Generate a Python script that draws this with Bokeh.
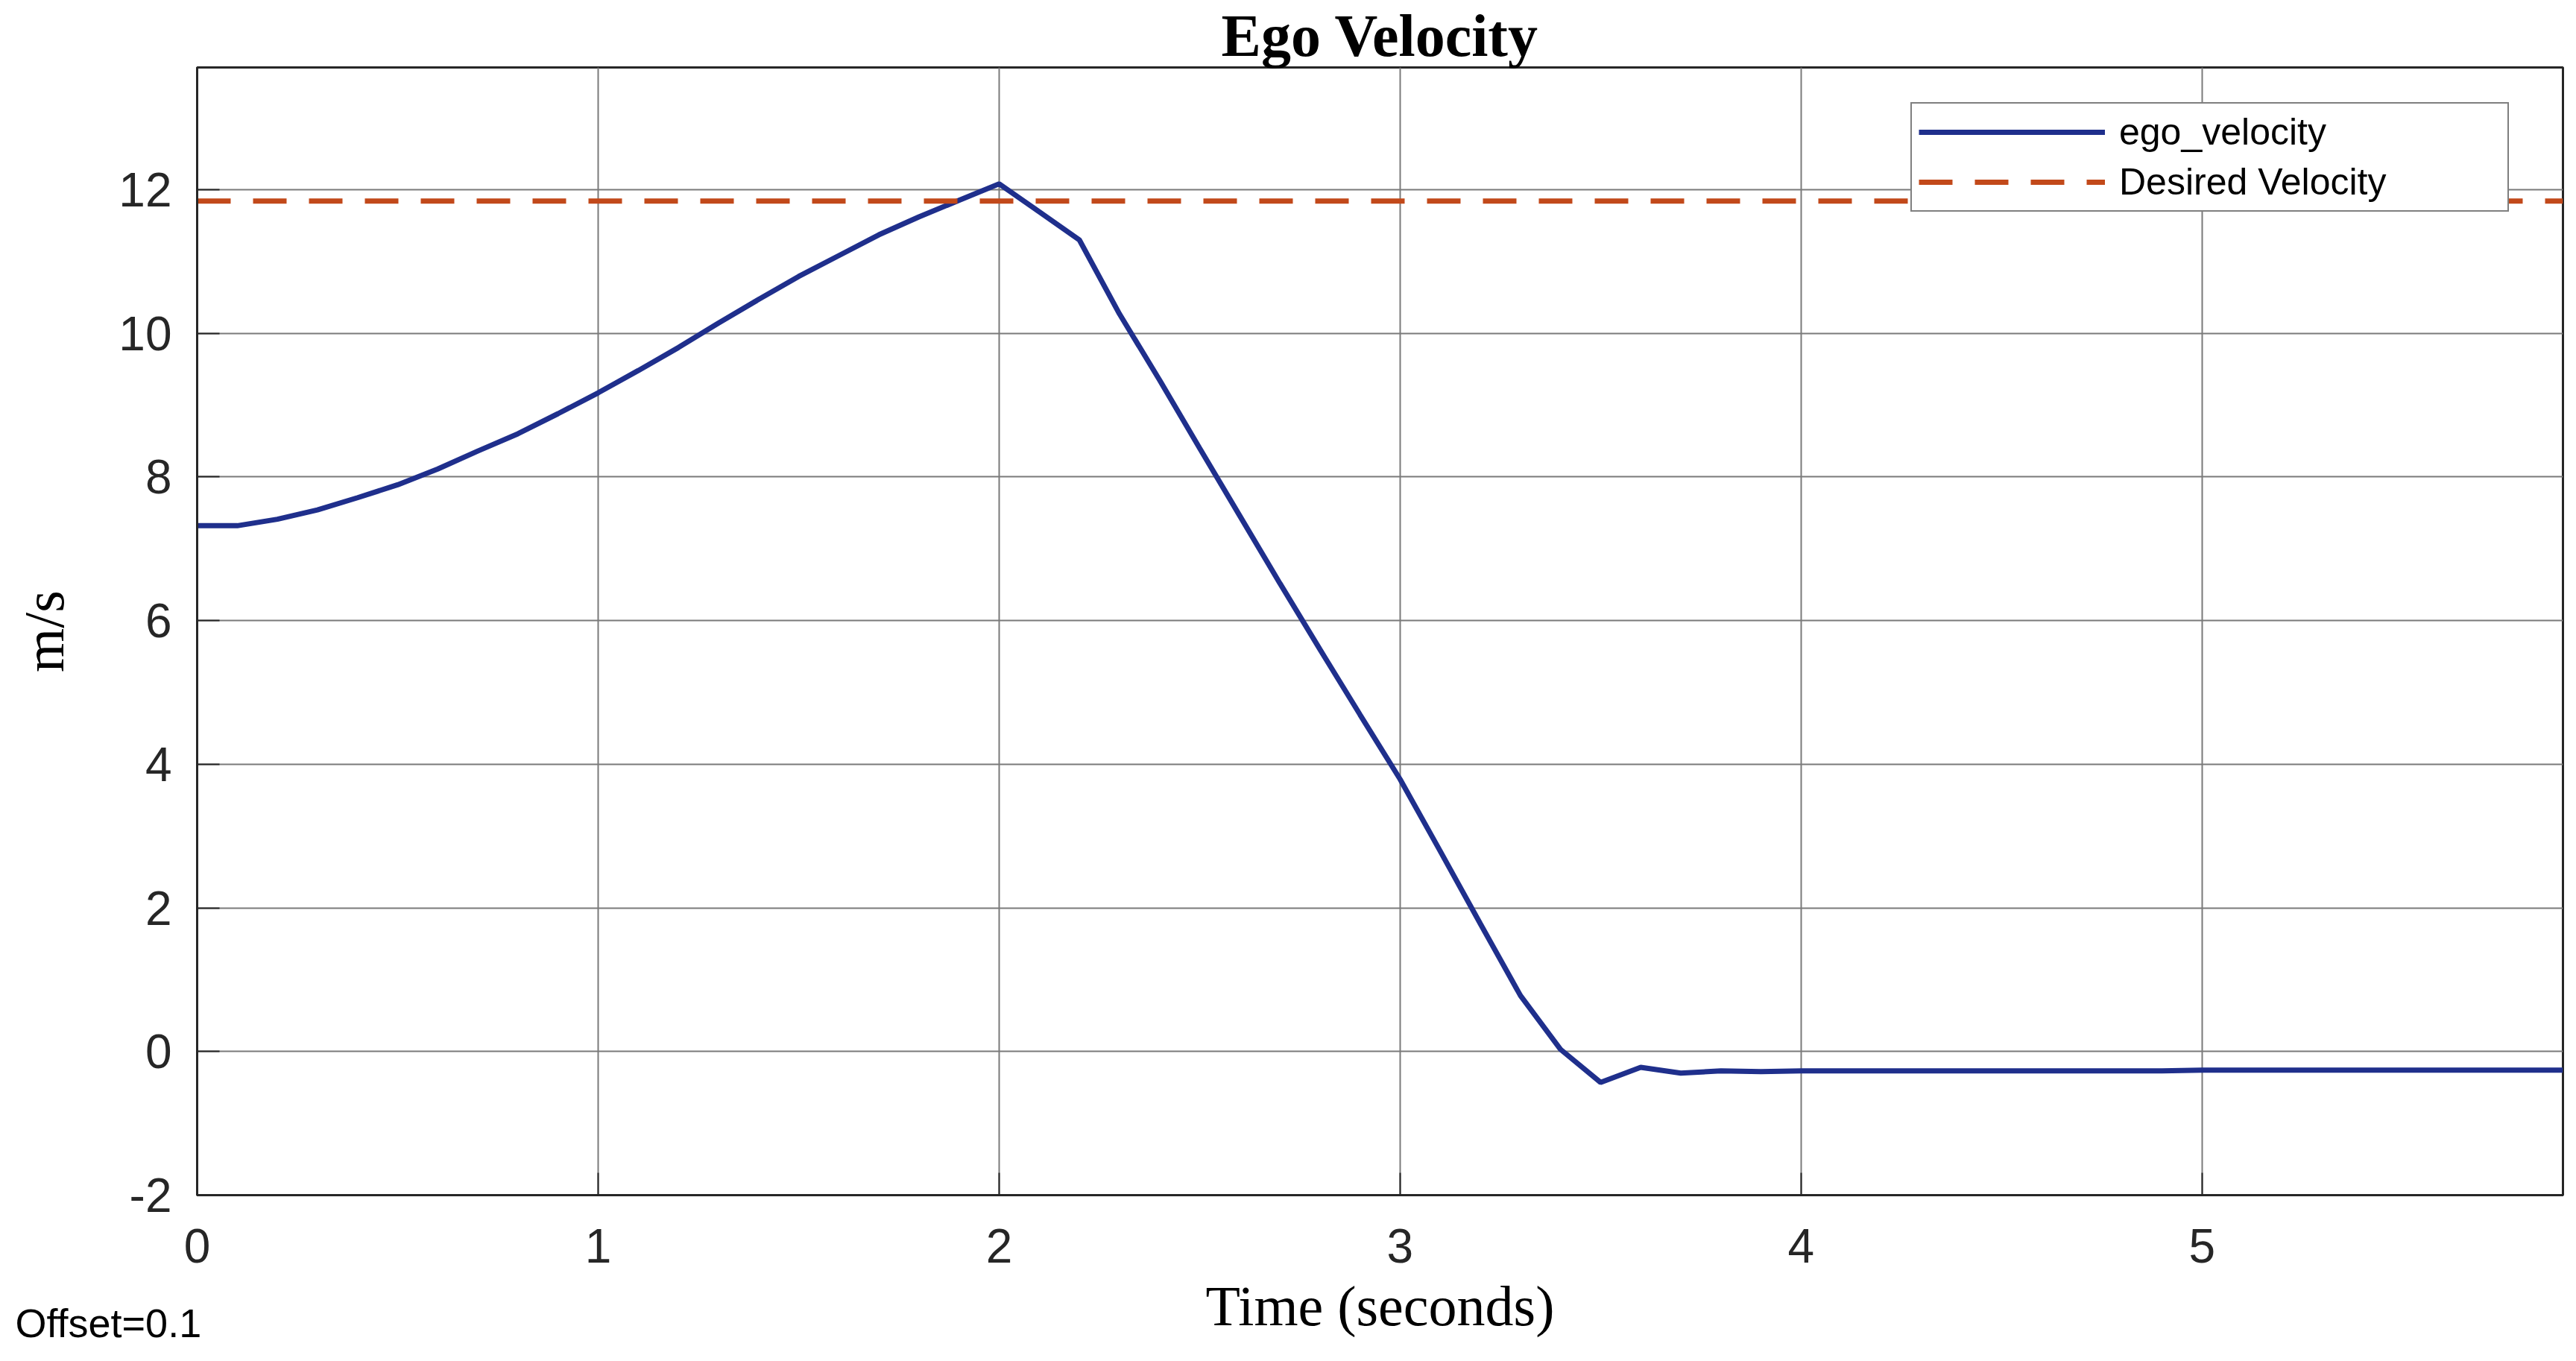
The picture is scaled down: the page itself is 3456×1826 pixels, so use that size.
from bokeh.plotting import figure
from bokeh.models import Range1d, FixedTicker, Legend, LegendItem, Title
from bokeh.embed import file_html
from bokeh.resources import INLINE

# ---- data ----
time_s = [0.0, 0.1, 0.2, 0.3, 0.4, 0.5, 0.6, 0.7, 0.8, 0.9,
          1.0, 1.1, 1.2, 1.3, 1.4, 1.5, 1.6, 1.7, 1.8, 1.9,
          2.0, 2.1, 2.2, 2.3, 2.4, 2.5, 2.6, 2.7, 2.8, 2.9,
          3.0, 3.1, 3.2, 3.3, 3.4, 3.5, 3.6, 3.7, 3.8, 3.9,
          4.0, 4.1, 4.2, 4.3, 4.4, 4.5, 4.6, 4.7, 4.8, 4.9,
          5.0, 5.1, 5.2, 5.3, 5.4, 5.5, 5.6, 5.7, 5.8, 5.9]
ego_velocity = [7.32, 7.32, 7.41, 7.54, 7.71, 7.89, 8.11, 8.36, 8.60, 8.88,
                9.17, 9.48, 9.80, 10.14, 10.47, 10.79, 11.08, 11.37, 11.62, 11.85,
                12.08, 11.69, 11.30, 10.27, 9.35, 8.40, 7.46, 6.52, 5.60, 4.69,
                3.79, 2.79, 1.78, 0.78, 0.03, -0.43, -0.22, -0.30, -0.27, -0.28,
                -0.27, -0.27, -0.27, -0.27, -0.27, -0.27, -0.27, -0.27, -0.27, -0.27,
                -0.26, -0.26, -0.26, -0.26, -0.26, -0.26, -0.26, -0.26, -0.26, -0.26]
desired_velocity_value = 11.84
desired_velocity = [desired_velocity_value for _ in time_s]

x_ticks = [0, 1, 2, 3, 4, 5]
y_ticks = [-2, 0, 2, 4, 6, 8, 10, 12]
y_tick_labels = {-2: "-2"}

TICK_FONT = "Liberation Sans"
SERIF = "Liberation Serif"
AX_COLOR = "#262626"

# frame: 3174 x 1513 px, 264 px from the left and 90 px from the top of the canvas
p = figure(frame_width=3174, frame_height=1513, output_backend="svg", toolbar_location=None,
           x_range=Range1d(0, 5.9), y_range=Range1d(-2, 13.7),
           min_border_left=264, min_border_right=12, min_border_top=90, min_border_bottom=217,
           background_fill_color="white", border_fill_color="white")

p.title.text = "Ego Velocity"
p.title.text_font = SERIF
p.title.text_font_style = "bold"
p.title.text_font_size = "80px"
p.title.text_color = "black"
p.title.align = "center"
p.title.vertical_align = "bottom"
p.title.standoff = -3

# axes
for ax in (p.xaxis[0], p.yaxis[0]):
    ax.major_label_text_font = TICK_FONT
    ax.major_label_text_font_size = "64px"
    ax.major_label_text_color = AX_COLOR
    ax.axis_line_color = AX_COLOR
    ax.axis_line_width = 3
    ax.major_tick_line_color = AX_COLOR
    ax.major_tick_line_width = 2
    ax.major_tick_in = 30
    ax.major_tick_out = 0
    ax.minor_tick_line_color = None
    ax.axis_label_text_font = SERIF
    ax.axis_label_text_font_style = "normal"
    ax.axis_label_text_font_size = "76px"
    ax.axis_label_text_color = "black"

p.xaxis[0].ticker = FixedTicker(ticks=x_ticks)
p.yaxis[0].ticker = FixedTicker(ticks=y_ticks)
p.yaxis[0].major_label_overrides = y_tick_labels
p.xaxis[0].axis_label = "Time (seconds)"
p.yaxis[0].axis_label = "m/s"
p.xaxis[0].major_label_standoff = 45
p.xaxis[0].axis_label_standoff = 13
p.yaxis[0].major_label_standoff = 34
p.yaxis[0].axis_label_standoff = 55

# grid
p.xgrid.ticker = FixedTicker(ticks=x_ticks)
p.ygrid.ticker = FixedTicker(ticks=y_ticks)
for g in (p.xgrid[0], p.ygrid[0]):
    g.grid_line_color = "#7a7a7a"
    g.grid_line_width = 2

p.outline_line_color = AX_COLOR
p.outline_line_width = 3
p.outline_line_alpha = 1.0

# lines
r_ego = p.line(time_s, ego_velocity, line_color="#1f2f8c", line_width=7)
r_des = p.line(time_s, desired_velocity, line_color="#c2491a", line_width=7, line_dash="45 30")

legend = Legend(items=[LegendItem(label="ego_velocity", renderers=[r_ego]),
                       LegendItem(label="Desired Velocity", renderers=[r_des])],
                location=(2299, 1319), margin=0, padding=9, spacing=9,
                glyph_width=250, glyph_height=50, label_height=50, label_width=512,
                label_standoff=19,
                label_text_font=TICK_FONT, label_text_font_size="50px", label_text_color="black",
                border_line_color="black", border_line_width=2,
                background_fill_color="white", background_fill_alpha=1.0)
p.add_layout(legend, "center")

# bottom-left note, placed in the bottom side panel (not clipped to the frame)
offset_note = Title(text="Offset=0.1", align="left", offset=-244, vertical_align="top",
                    standoff=-104, text_font=TICK_FONT, text_font_size="54px",
                    text_font_style="normal", text_color="black")
p.add_layout(offset_note, "below")

open("out.html", "w").write(file_html(p, INLINE))
